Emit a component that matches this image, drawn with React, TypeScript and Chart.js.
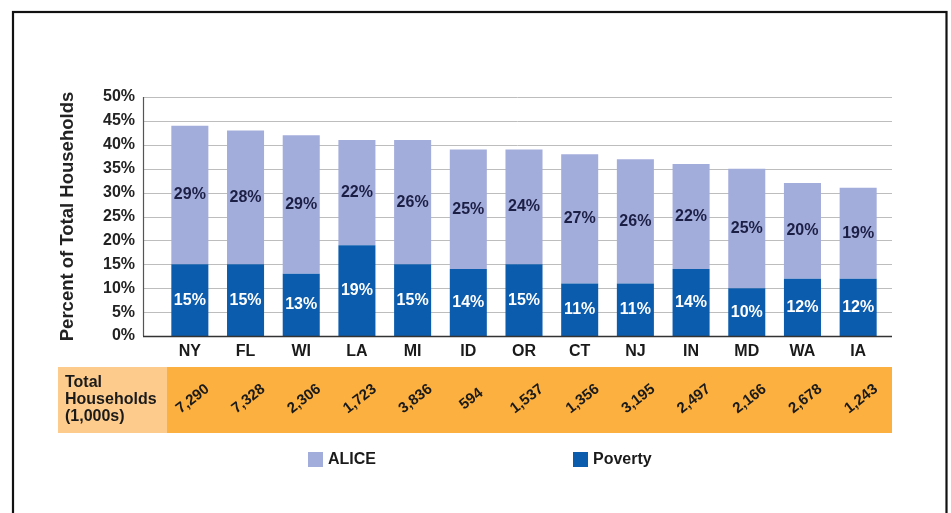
import React, { useEffect, useRef } from "react";
import { Chart, registerables } from "chart.js";

Chart.register(...registerables);

const states = ["NY", "FL", "WI", "LA", "MI", "ID", "OR", "CT", "NJ", "IN", "MD", "WA", "IA"];
const povertyPct = [15, 15, 13, 19, 15, 14, 15, 11, 11, 14, 10, 12, 12];
const alicePct = [29, 28, 29, 22, 26, 25, 24, 27, 26, 22, 25, 20, 19];
const totalHouseholds = ["7,290", "7,328", "2,306", "1,723", "3,836", "594", "1,537", "1,356", "3,195", "2,497", "2,166", "2,678", "1,243"];
const tableLabelLines = ["Total", "Households", "(1,000s)"];
const yAxisTitle = "Percent of Total Households";
const yMin = 0;
const yMax = 50;
const yStep = 5;

const FONT = '"Liberation Sans", Arial, sans-serif';
const ALICE_COLOR = "#A3ADDB";
const POVERTY_COLOR = "#0B5CAD";
const ORANGE = "#FBB040";
const ORANGE_LIGHT = "#FDCC8D";

const decorPlugin = {
  id: "decor",
  beforeDraw(chart: any) {
    const ctx = chart.ctx;
    ctx.save();
    ctx.fillStyle = "#ffffff";
    ctx.fillRect(0, 0, chart.width, chart.height);
    ctx.strokeStyle = "#111111";
    ctx.lineWidth = 2.2;
    ctx.strokeRect(13, 12, 933.5, 600);
    ctx.restore();
  },
  beforeDatasetsDraw(chart: any) {
    const ctx = chart.ctx;
    const { left, right, top, bottom } = chart.chartArea;
    const y = chart.scales.y;
    const x0 = left - 19;
    const x1 = right + 6;
    ctx.save();
    ctx.strokeStyle = "#bdbdbd";
    ctx.lineWidth = 1;
    y.ticks.forEach((t: any) => {
      const py = Math.round(y.getPixelForValue(t.value)) + 0.5;
      ctx.beginPath();
      ctx.moveTo(x0, py);
      ctx.lineTo(x1, py);
      ctx.stroke();
    });
    ctx.strokeStyle = "#555555";
    ctx.lineWidth = 1.2;
    ctx.beginPath();
    ctx.moveTo(x0 + 0.5, top);
    ctx.lineTo(x0 + 0.5, bottom);
    ctx.stroke();
    ctx.restore();
  },
  afterDatasetsDraw(chart: any) {
    const ctx = chart.ctx;
    const { left, right, bottom } = chart.chartArea;
    ctx.save();
    // baseline axis
    ctx.strokeStyle = "#333333";
    ctx.lineWidth = 1.6;
    ctx.beginPath();
    ctx.moveTo(left - 19, bottom + 0.5);
    ctx.lineTo(right + 6, bottom + 0.5);
    ctx.stroke();

    // segment labels
    ctx.font = `bold 16px ${FONT}`;
    ctx.textAlign = "center";
    ctx.textBaseline = "middle";
    chart.data.datasets.forEach((ds: any, di: number) => {
      const meta = chart.getDatasetMeta(di);
      ctx.fillStyle = ds.labelColor;
      meta.data.forEach((el: any, i: number) => {
        const v = ds.data[i];
        ctx.fillText(`${v}%`, el.x, (el.y + el.base) / 2);
      });
    });

    // table row
    const xs = chart.scales.x;
    const tTop = 367;
    const tBot = 433;
    ctx.fillStyle = ORANGE_LIGHT;
    ctx.fillRect(58, tTop, 109, tBot - tTop);
    ctx.fillStyle = ORANGE;
    ctx.fillRect(167, tTop, right + 6 - 167, tBot - tTop);
    ctx.fillStyle = "#1a1a1a";
    ctx.textAlign = "left";
    ctx.font = `bold 16px ${FONT}`;
    tableLabelLines.forEach((line, i) => {
      ctx.fillText(line, 65, 383 + i * 17);
    });
    ctx.font = `bold 15px ${FONT}`;
    ctx.textAlign = "center";
    totalHouseholds.forEach((val, i) => {
      const px = xs.getPixelForValue(i);
      ctx.save();
      ctx.translate(px + 3, 399);
      ctx.rotate((-38 * Math.PI) / 180);
      ctx.fillText(val, 0, 0);
      ctx.restore();
    });

    // legend
    const legendItems = [...chart.data.datasets].reverse();
    const legendX = [308, 573];
    ctx.font = `bold 16px ${FONT}`;
    ctx.textAlign = "left";
    legendItems.forEach((ds: any, i: number) => {
      ctx.fillStyle = ds.backgroundColor;
      ctx.fillRect(legendX[i], 452, 15, 15);
      ctx.fillStyle = "#1a1a1a";
      ctx.fillText(ds.label, legendX[i] + 20, 460);
    });
    ctx.restore();
  },
};

export default function App() {
  const ref = useRef<HTMLCanvasElement | null>(null);
  useEffect(() => {
    if (!ref.current) return;
    const chart = new Chart(ref.current, {
      type: "bar",
      data: {
        labels: states,
        datasets: [
          { label: "Poverty", data: povertyPct, backgroundColor: POVERTY_COLOR, labelColor: "#ffffff" } as any,
          { label: "ALICE", data: alicePct, backgroundColor: ALICE_COLOR, labelColor: "#1c1f45" } as any,
        ],
      },
      options: {
        responsive: false,
        animation: false,
        layout: { padding: { left: 57, right: 65, top: 97, bottom: 147 } },
        datasets: { bar: { barPercentage: 0.665, categoryPercentage: 1 } },
        plugins: { legend: { display: false }, tooltip: { enabled: false } },
        scales: {
          x: {
            stacked: true,
            grid: { display: false, drawTicks: false },
            border: { display: false },
            ticks: { color: "#1a1a1a", font: { family: FONT, size: 16, weight: "bold" }, padding: 6 },
            afterFit: (s: any) => { s.height = 30; },
          },
          y: {
            stacked: true,
            min: yMin,
            max: yMax,
            grid: { display: false, drawTicks: false },
            border: { display: false },
            ticks: {
              stepSize: yStep,
              color: "#222222",
              padding: 27,
              font: { family: FONT, size: 16, weight: "bold" },
              callback: (v: any) => `${v}%`,
            },
            title: {
              display: true,
              text: yAxisTitle,
              color: "#222222",
              padding: 0,
              font: { family: FONT, size: 18.5, weight: "bold" },
            },
            afterFit: (s: any) => { s.width = 105; },
          },
        },
      },
      plugins: [decorPlugin],
    });
    return () => chart.destroy();
  }, []);
  return (
    <div style={{ position: "fixed", left: 0, top: 0, width: 951, height: 513 }}>
      <canvas ref={ref} width={951} height={513} />
    </div>
  );
}
